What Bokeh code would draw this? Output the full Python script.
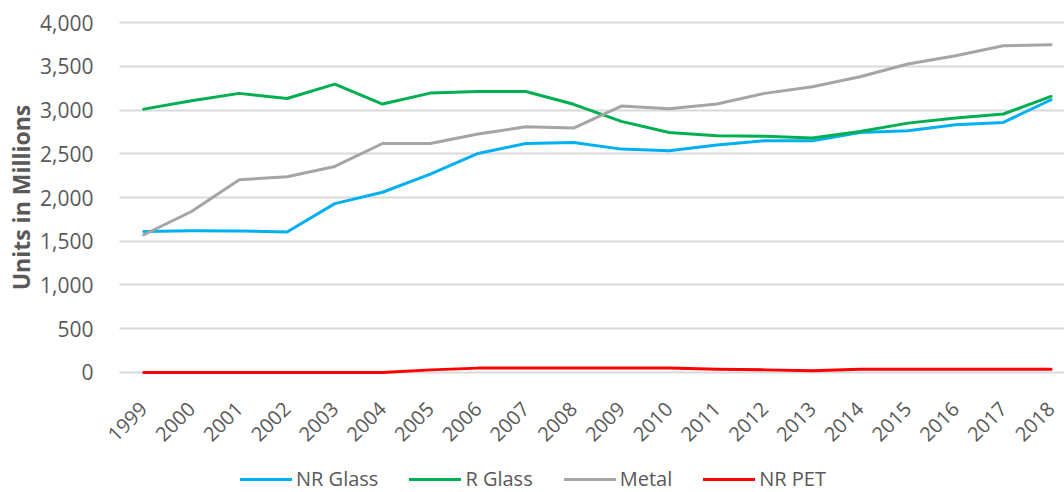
import math
from bokeh.plotting import figure
from bokeh.models import Range1d, FixedTicker, NumeralTickFormatter, Legend, LegendItem
from bokeh.embed import file_html
from bokeh.resources import INLINE

years = [1999, 2000, 2001, 2002, 2003, 2004, 2005, 2006, 2007, 2008,
         2009, 2010, 2011, 2012, 2013, 2014, 2015, 2016, 2017, 2018]
year_labels = [str(y) for y in years]

nr_glass = [1612, 1620, 1618, 1605, 1930, 2060, 2268, 2503, 2617, 2629,
            2553, 2534, 2599, 2648, 2648, 2743, 2763, 2831, 2858, 3117]
r_glass = [3010, 3105, 3190, 3132, 3296, 3068, 3193, 3212, 3212, 3065,
           2870, 2743, 2705, 2700, 2679, 2755, 2850, 2908, 2954, 3155]
metal = [1574, 1840, 2203, 2237, 2355, 2617, 2617, 2725, 2808, 2793,
         3045, 3014, 3068, 3190, 3265, 3380, 3525, 3620, 3734, 3746]
nr_pet = [0, 0, 0, 0, 0, 0, 30, 50, 50, 50,
          50, 50, 38, 30, 19, 38, 38, 38, 38, 38]

series_names = ["NR Glass", "R Glass", "Metal", "NR PET"]
series_values = [nr_glass, r_glass, metal, nr_pet]
series_colors = ["#00B0F0", "#00B050", "#A5A5A5", "#FF0000"]

y_ticks = [0, 500, 1000, 1500, 2000, 2500, 3000, 3500, 4000]

FONT = "Open Sans"
TXT = "#595959"

X_LEFT = 1998.49   # left edge of the plotting area (half a step before 1999)
X_END = 2018.28

p = figure(width=1064, height=492, output_backend="svg", toolbar_location=None,
           x_range=Range1d(1996.0, X_END), y_range=Range1d(-1371.43, 4251.43),
           min_border_left=0, min_border_right=0, min_border_top=0,
           min_border_bottom=0)
p.outline_line_color = None
p.background_fill_color = "white"
p.border_fill_color = "white"

renderers = []
for name, vals, col in zip(series_names, series_values, series_colors):
    r = p.line(years, vals, line_color=col, line_width=3,
               line_join="round", line_cap="round")
    renderers.append(r)

p.xgrid.grid_line_color = None
p.ygrid.grid_line_color = "#D9D9D9"
p.ygrid.grid_line_width = 2
p.ygrid.ticker = FixedTicker(ticks=y_ticks)
p.ygrid.cross_bounds = (X_LEFT, X_END)

xa = p.xaxis[0]
xa.fixed_location = 0
xa.ticker = FixedTicker(ticks=years)
xa.major_label_overrides = {y: l for y, l in zip(years, year_labels)}
xa.major_label_orientation = math.pi / 4
xa.major_tick_line_color = None
xa.minor_tick_line_color = None
xa.axis_line_color = None
xa.major_label_standoff = 27
xa.major_label_text_font = FONT
xa.major_label_text_font_size = "20px"
xa.major_label_text_color = TXT

ya = p.yaxis[0]
ya.fixed_location = X_LEFT
ya.bounds = (0, 4000)
ya.ticker = FixedTicker(ticks=y_ticks)
ya.formatter = NumeralTickFormatter(format="0,0")
ya.major_tick_line_color = None
ya.minor_tick_line_color = None
ya.axis_line_color = None
ya.major_label_standoff = 20
ya.major_label_text_font = FONT
ya.major_label_text_font_size = "21px"
ya.major_label_text_color = TXT
ya.axis_label = "Units in Millions"
ya.axis_label_text_font = FONT
ya.axis_label_text_font_size = "23px"
ya.axis_label_text_font_style = "bold"
ya.axis_label_text_color = TXT
ya.axis_label_standoff = 0

legend = Legend(
    items=[LegendItem(label=n, renderers=[r]) for n, r in zip(series_names, renderers)],
    orientation="horizontal", location=(240, 0),
    glyph_width=52, glyph_height=20, label_standoff=4, spacing=31,
    padding=0, margin=0, border_line_color=None, background_fill_alpha=0,
    label_text_font=FONT, label_text_font_size="20px", label_text_color=TXT,
)
p.add_layout(legend, "center")

open("out.html", "w").write(file_html(p, INLINE))
